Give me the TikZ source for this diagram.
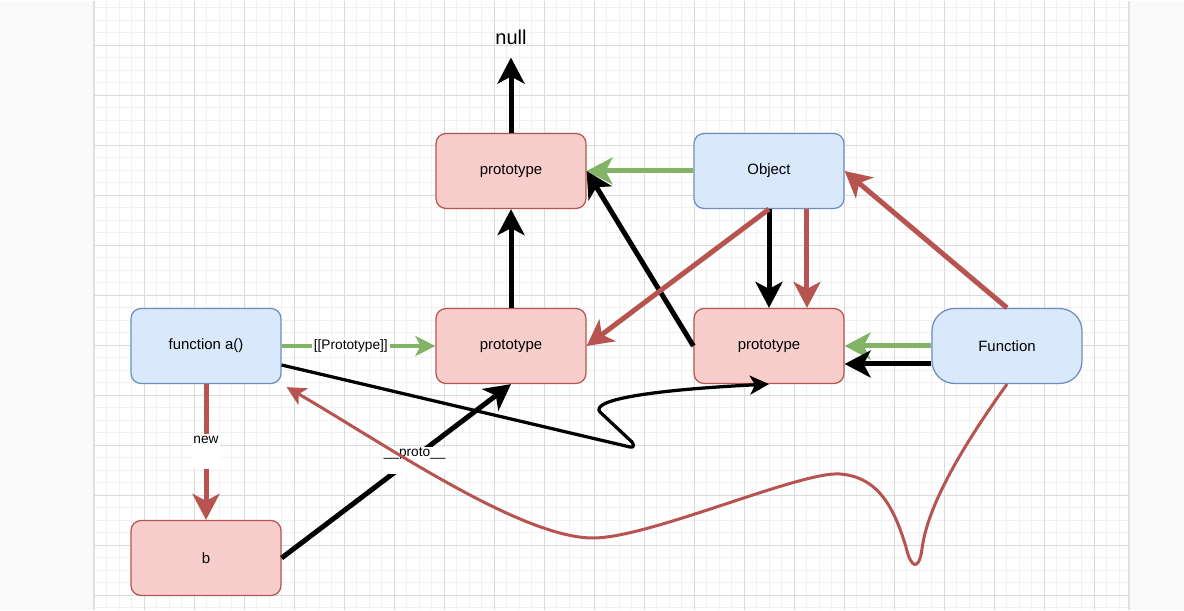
\documentclass[tikz,border=0pt]{standalone}
\usepackage{fontspec}
\setmainfont{Liberation Sans}
\usetikzlibrary{arrows.meta}

\definecolor{bluefill}{HTML}{DAE8FC}
\definecolor{blueline}{HTML}{6C8EBF}
\definecolor{redfill}{HTML}{F8CECC}
\definecolor{redline}{HTML}{B85450}
\definecolor{greenline}{HTML}{82B366}
\definecolor{pagegray}{HTML}{FAFAFA}
\definecolor{minorgray}{HTML}{F1F1F1}
\definecolor{majorgray}{HTML}{DADADA}

\begin{document}
\begin{tikzpicture}[x=0.02cm, y=-0.02cm,
	box/.style={draw, rounded corners=0.2cm, minimum width=3cm, minimum height=1.5cm, line width=0.025cm, font=\fontsize{8.5}{10}\selectfont},
	bluebox/.style={box, fill=bluefill, draw=blueline},
	redbox/.style={box, fill=redfill, draw=redline},
	bigarrow/.style={line width=0.1cm, -{Stealth[length=0.52cm, width=0.54cm, inset=0.14cm]}},
	smallarrow/.style={line width=0.065cm, -{Stealth[length=0.38cm, width=0.38cm, inset=0.1cm]}},
	lbl/.style={fill=white, text=black, inner sep=1pt, font=\fontsize{7.8}{9}\selectfont}
]
	
	% page and grid
	\fill[pagegray] (0,0) rectangle (1184,609);
	\fill[white] (94,0) rectangle (1128,609);
	\foreach \gx in {94,106.5,...,1128}
		\draw[minorgray, line width=0.02cm] (\gx,0) -- (\gx,609);
	\foreach \gy in {6.8,19.3,...,609}
		\draw[minorgray, line width=0.02cm] (94,\gy) -- (1128,\gy);
	\foreach \gx in {94,144,...,1128}
		\draw[majorgray, line width=0.02cm] (\gx,0) -- (\gx,609);
	\foreach \gy in {44.3,94.3,...,609}
		\draw[majorgray, line width=0.02cm] (94,\gy) -- (1128,\gy);
	\draw[black!12, line width=0.04cm] (93.5,0) -- (93.5,609);
	\draw[black!12, line width=0.04cm] (1128.5,0) -- (1128.5,609);
	
	% boxes
	\node[redbox] (protoTop) at (511,170) {prototype};
	\node[bluebox] (Object) at (769,170) {Object};
	\node[bluebox] (funcA) at (206,345) {function a()};
	\node[redbox] (protoMid) at (511,345) {prototype};
	\node[redbox] (protoRight) at (769,345) {prototype};
	\node[bluebox, rounded corners=0.45cm] (Function) at (1007,345) {Function};
	\node[redbox] (b) at (206,557) {b};
	\node[font=\fontsize{11.4}{13}\selectfont] (null) at (511,36) {null};
	
	% prototype chain
	\draw[bigarrow] (protoTop.north) -- ([yshift=-0.14cm]null.south);
	\draw[bigarrow] (protoMid.north) -- (protoTop.south);
	\draw[bigarrow, greenline] (Object.west) -- (protoTop.east);
	\draw[bigarrow] (protoRight.west) -- (protoTop.east);
	\draw[bigarrow] (Object.south) -- (protoRight.north);
	\draw[bigarrow, redline] ([xshift=0.76cm]Object.south) -- ([xshift=0.76cm]protoRight.north);
	\draw[bigarrow, redline] (Object.south) -- (protoMid.east);
	\draw[bigarrow, greenline] (Function.west) -- (protoRight.east);
	\draw[bigarrow] ([yshift=-0.36cm]Function.west) -- ([yshift=-0.36cm]protoRight.east);
	\draw[bigarrow, redline] (Function.north) -- (Object.east);
	
	\draw[line width=0.08cm, greenline, -{Stealth[length=0.4cm, width=0.4cm, inset=0.1cm]}] (funcA.east) -- node[lbl, pos=0.45] {[[Prototype]]} (protoMid.west);
	\draw[bigarrow, redline] (funcA.south) -- node[lbl, pos=0.35, anchor=north, text depth=0.48cm] {new} (b.north);
	\draw[bigarrow] (b.east) -- node[lbl, pos=0.58, anchor=north, yshift=0.25cm, text depth=0.36cm, inner sep=0pt] {\_\_proto\_\_} (protoMid.south);
	
	\draw[smallarrow, line join=round] ([yshift=-0.38cm]funcA.east) -- (630,446) .. controls (634,447) and (634,444) .. (632,441) -- (600,411) .. controls (590,399) and (650,389) .. (protoRight.south);
	\draw[smallarrow, redline, line width=0.06cm] (Function.south) .. controls (970,435) and (928,500) .. (922,548)
		.. controls (919,570) and (911,568) .. (906,546)
		.. controls (895,510) and (880,476) .. (840,473)
		.. controls (800,470) and (650,537) .. (593,537)
		.. controls (520,537) and (380,440) .. ([xshift=0.1cm, yshift=-0.06cm]funcA.south east);
	
\end{tikzpicture}
\end{document}
